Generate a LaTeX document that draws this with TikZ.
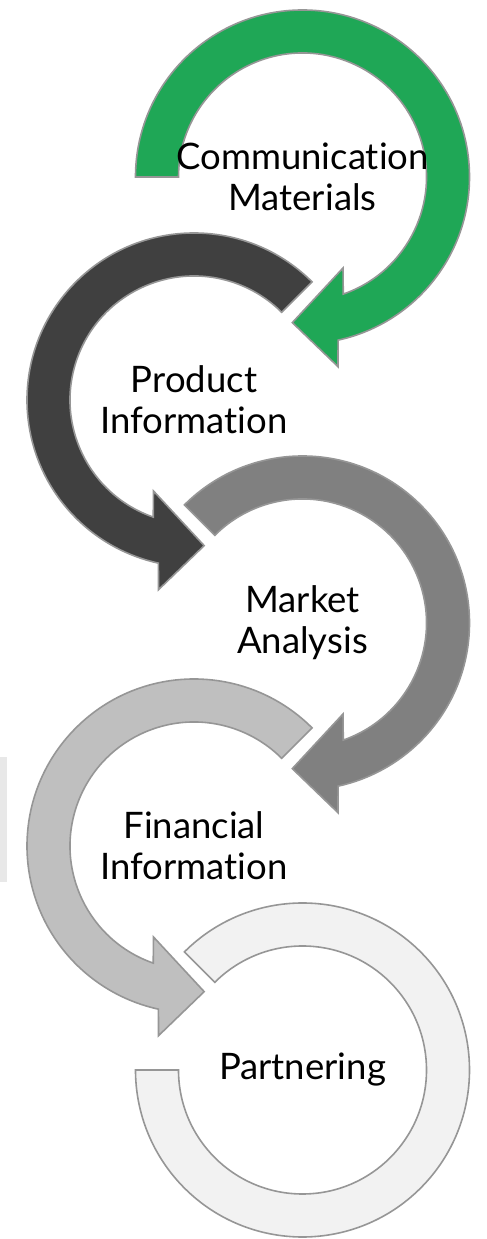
\documentclass[tikz,border=0pt]{standalone}
\usepackage{fontspec}
\setmainfont[Ligatures={NoCommon,NoRare,NoDiscretionary}]{Lato}
\usepackage{tikz}
\usetikzlibrary{calc}
\definecolor{commgreen}{RGB}{31,167,86}
\definecolor{ringline}{RGB}{150,150,150}

\begin{document}
\begin{tikzpicture}[x=1pt,y=1pt,
  ringpart/.style={draw=ringline,line width=1.6pt,line join=miter},
  steplabel/.style={align=center,font=\fontsize{36.5}{41}\selectfont,text=black}]
\useasboundingbox (0,0) rectangle (487,1239);
\fill[black!9] (0,357) rectangle (7,482);
\foreach \cx/\cy/\sx/\tail/\col in {302.5/1062/1/180/commgreen, 194/839/-1/135/black!75, 302.5/616/1/135/black!50, 194/393/-1/135/black!25}{
  \begin{scope}[shift={(\cx,\cy)},xscale=\sx]
  \filldraw[ringpart,fill=\col] (\tail:124) -- (\tail:167) arc[start angle=\tail, end angle=-77.7, radius=167]
    -- (-79.4:193) -- (-94:146) -- (-66:99.6) -- (-70.8:124) arc[start angle=-70.8, end angle=\tail, radius=124] -- cycle;
  \end{scope}
}
\begin{scope}[shift={(302.5,169)}]
\filldraw[ringpart,fill=black!5] (135:124) -- (135:167) arc[start angle=135, end angle=-180, radius=167]
  -- (180:124) arc[start angle=-180, end angle=135, radius=124] -- cycle;
\end{scope}
\node[steplabel] (comm) at (302.5,1062) {Communication\\Materials};
\node[steplabel] (prod) at (194,839) {Product\\Information};
\node[steplabel] (mkt) at (302.5,616) {Market\\Analysis};
\node[steplabel] (fin) at (194,393) {Financial\\Information};
\node[steplabel] (part) at (302.5,169) {Partnering};
\end{tikzpicture}
\end{document}
